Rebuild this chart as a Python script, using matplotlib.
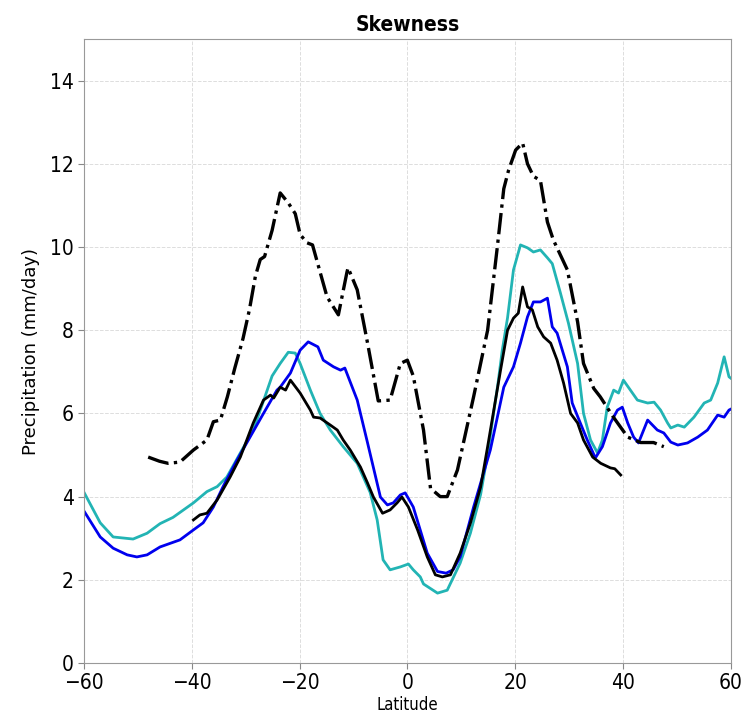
import numpy as np
import matplotlib
matplotlib.use('Agg')
import matplotlib.pyplot as plt
from matplotlib import font_manager

# Zonal mean skewness of precipitation
# dash-dot black series
lat_dd = [-48.1, -46.0, -44.4, -42.2, -39.7, -37.2, -36.0, -34.7, -33.4, -32.0, -30.5, -29.3, -28.2, -27.3,
          -26.5, -25.1, -23.6, -22.1, -20.8, -19.9, -18.6, -17.6, -16.2, -14.9, -12.8, -11.2, -11.0, -9.3,
          -7.4, -5.4, -3.2, -1.3, 0.0, 1.1, 3.0, 4.3, 6.1, 7.4, 9.3, 12.3, 14.9, 16.7, 17.9, 18.8, 20.1,
          21.4, 22.3, 23.4, 24.7, 26.0, 27.1, 28.8, 29.7, 31.6, 32.7, 34.6, 35.8, 38.3, 40.9, 43.3, 45.7, 47.6]
val_dd = [4.95, 4.85, 4.8, 4.83, 5.12, 5.36, 5.8, 5.84, 6.4, 7.1, 7.8, 8.5, 9.3, 9.7,
          9.77, 10.4, 11.3, 11.06, 10.8, 10.3, 10.1, 10.05, 9.4, 8.8, 8.37, 9.4, 9.5, 8.97,
          7.7, 6.3, 6.32, 7.2, 7.28, 6.9, 5.6, 4.2, 4.0, 4.0, 4.64, 6.4, 8.0, 10.0, 11.4, 11.85, 12.33,
          12.5, 12.0, 11.7, 11.6, 10.6, 10.17, 9.7, 9.45, 8.2, 7.2, 6.6, 6.4, 5.9, 5.43, 5.3, 5.3, 5.2]

# cyan series
lat_c = [-60.0, -57.0, -54.6, -50.9, -48.3, -45.9, -43.5, -39.7, -37.2, -35.3, -33.5, -31.0, -28.6, -26.7,
         -25.1, -23.6, -22.1, -20.8, -19.9, -18.0, -16.2, -14.3, -11.9, -9.3, -6.9, -5.6, -4.5, -3.2, -1.3,
         0.2, 1.1, 2.4, 3.0, 5.6, 7.4, 9.8, 11.7, 13.6, 15.0, 16.0, 16.8, 17.6, 18.6, 19.7, 21.0, 22.3, 23.4,
         24.7, 26.0, 26.9, 28.4, 29.9, 31.6, 32.7, 34.0, 35.3, 36.2, 37.1, 38.3, 39.2, 40.1, 41.4, 42.7,
         44.6, 45.8, 47.0, 48.3, 48.9, 50.2, 51.4, 53.2, 55.1, 56.3, 57.6, 58.8, 59.7, 60.0]
val_c = [4.1, 3.37, 3.03, 2.98, 3.12, 3.35, 3.5, 3.85, 4.12, 4.24, 4.47, 5.05, 5.6, 6.3,
         6.9, 7.2, 7.47, 7.45, 7.2, 6.56, 6.0, 5.6, 5.2, 4.8, 4.1, 3.44, 2.48, 2.24, 2.31,
         2.38, 2.24, 2.07, 1.9, 1.68, 1.75, 2.4, 3.12, 4.05, 5.1, 6.0, 6.7, 7.5, 8.3, 9.45, 10.05, 9.98, 9.88,
         9.93, 9.74, 9.6, 8.9, 8.17, 7.2, 6.0, 5.36, 5.05, 5.36, 6.15, 6.56, 6.49, 6.8, 6.56, 6.32,
         6.25, 6.27, 6.08, 5.77, 5.65, 5.72, 5.67, 5.91, 6.25, 6.32, 6.73, 7.36, 6.88, 6.85]

# blue series
lat_b = [-60.0, -57.0, -54.6, -52.0, -50.2, -48.3, -45.9, -42.2, -39.7, -37.9, -36.0, -34.2, -31.6, -29.2,
         -26.7, -24.2, -23.6, -21.7, -19.9, -18.4, -16.6, -15.6, -13.7, -12.4, -11.6, -9.3, -7.4, -5.0,
         -3.7, -2.6, -1.3, -0.4, 1.1, 3.7, 5.6, 7.2, 8.5, 9.8, 12.3, 15.4, 17.9, 19.7, 21.0, 22.3, 23.4,
         24.7, 26.0, 26.9, 27.8, 29.7, 30.6, 32.1, 33.4, 34.9, 36.2, 37.7, 39.0, 39.9, 40.9, 42.0, 42.9,
         44.6, 46.4, 47.6, 48.9, 50.2, 52.0, 53.9, 55.7, 57.6, 58.8, 59.7, 60.0]
val_b = [3.65, 3.03, 2.76, 2.6, 2.55, 2.6, 2.79, 2.96, 3.2, 3.37, 3.75, 4.24, 4.88, 5.43,
         6.0, 6.56, 6.63, 6.97, 7.52, 7.72, 7.6, 7.28, 7.12, 7.04, 7.09, 6.32, 5.3, 3.99,
         3.8, 3.85, 4.04, 4.09, 3.75, 2.64, 2.2, 2.16, 2.24, 2.55, 3.75, 5.12, 6.63, 7.12, 7.69, 8.32, 8.68,
         8.68, 8.77, 8.08, 7.93, 7.12, 6.25, 5.77, 5.36, 4.93, 5.2, 5.77, 6.08, 6.15, 5.77, 5.43, 5.29,
         5.84, 5.6, 5.53, 5.31, 5.24, 5.29, 5.43, 5.6, 5.96, 5.91, 6.08, 6.1]

# solid black series
lat_k = [-39.7, -38.5, -37.2, -35.3, -32.9, -31.0, -28.6, -26.7, -25.4, -24.8, -23.6, -22.6, -21.7, -19.9,
         -18.0, -17.4, -16.2, -14.3, -13.0, -11.9, -10.6, -8.7, -7.4, -6.3, -4.6, -3.2, -1.9, -1.0, 0.2,
         1.9, 3.7, 5.2, 6.5, 8.0, 9.8, 11.7, 13.6, 14.9, 17.3, 18.6, 19.7, 20.6, 21.4, 22.3, 23.2, 24.2,
         25.3, 26.6, 27.8, 29.0, 30.3, 31.6, 32.7, 34.4, 35.9, 37.7, 38.5, 39.6]
val_k = [3.44, 3.56, 3.6, 3.92, 4.47, 4.95, 5.77, 6.32, 6.44, 6.37, 6.63, 6.56, 6.8, 6.49,
         6.08, 5.91, 5.89, 5.72, 5.6, 5.36, 5.12, 4.71, 4.33, 3.99, 3.6, 3.68, 3.85, 3.99, 3.75,
         3.2, 2.55, 2.12, 2.07, 2.12, 2.64, 3.36, 4.23, 5.2, 7.04, 8.0, 8.29, 8.41, 9.04, 8.56, 8.49, 8.08,
         7.84, 7.69, 7.28, 6.73, 6.0, 5.77, 5.36, 4.95, 4.8, 4.69, 4.67, 4.52]

xticks = [-60, -40, -20, 0, 20, 40, 60]
yticks = [0, 2, 4, 6, 8, 10, 12, 14]

# narrow font for ticks/title if the condensed DejaVu is around
stretches = [f.stretch for f in font_manager.fontManager.ttflist if f.name == 'DejaVu Sans']
narrow = 'condensed' if 'condensed' in stretches or 'semi-condensed' in stretches else 'normal'

fig = plt.figure(figsize=(7.44, 7.17), dpi=100)
ax = fig.add_axes([0.113, 0.0753, 0.869, 0.8703])

ax.plot(lat_c, val_c, '-', color='#22b4b4', linewidth=2.0)
ax.plot(lat_b, val_b, '-', color='#0000ee', linewidth=2.0)
ax.plot(lat_k, val_k, '-', color='k', linewidth=2.0)
ax.plot(lat_dd, val_dd, '-.', color='k', linewidth=2.4)

ax.set_xlim(-60, 60)
ax.set_ylim(0, 15)
ax.set_xticks(xticks)
ax.set_yticks(yticks)
ax.tick_params(labelsize=15, color='#888888', length=4)
for lab in ax.get_xticklabels() + ax.get_yticklabels():
    lab.set_fontstretch(narrow)
for s in ax.spines.values():
    s.set_color('#999999')
ax.grid(True, linestyle='--', color='#dddddd', linewidth=0.7)
ax.set_axisbelow(True)

ax.set_title('Skewness', fontsize=15, fontweight='bold', fontstretch=narrow)
ax.set_xlabel('Latitude', fontsize=12, labelpad=2, fontstretch=narrow)
ax.set_ylabel('Precipitation (mm/day)', fontsize=13, labelpad=7)

plt.savefig('out.png', dpi=100)
